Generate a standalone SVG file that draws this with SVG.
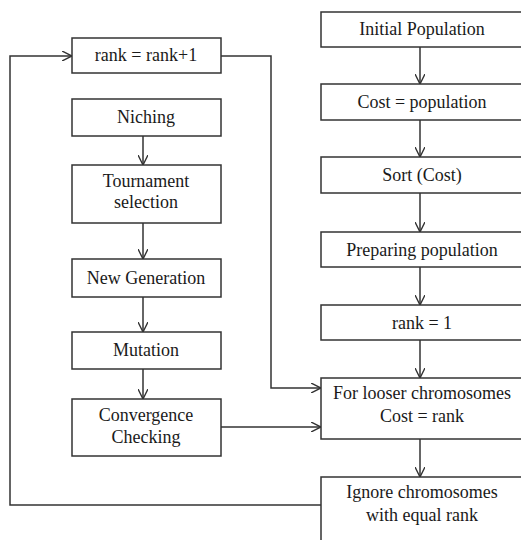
<svg xmlns="http://www.w3.org/2000/svg" width="521" height="540" viewBox="0 0 521 540">
<style>
.box{fill:#fff;stroke:#333;stroke-width:1.5}
.t{font-size:18px;fill:#1a1a1a;text-anchor:middle}
.c{fill:none;stroke:#333;stroke-width:1.5}
</style>
<defs>
<marker id="ah" viewBox="0 0 10 10" refX="10" refY="5" markerWidth="10" markerHeight="10" markerUnits="userSpaceOnUse" orient="auto">
<path d="M0,0 L10,5 L0,10" fill="none" stroke="#333" stroke-width="1.4"/>
</marker>
</defs>
<rect width="521" height="540" fill="#fff"/>
<g id="connectors">
<line class="c" x1="420" y1="47" x2="420" y2="84" marker-end="url(#ah)"/>
<line class="c" x1="420" y1="120" x2="420" y2="157" marker-end="url(#ah)"/>
<line class="c" x1="420" y1="193" x2="420" y2="232" marker-end="url(#ah)"/>
<line class="c" x1="420" y1="267" x2="420" y2="305" marker-end="url(#ah)"/>
<line class="c" x1="420" y1="340" x2="420" y2="378" marker-end="url(#ah)"/>
<line class="c" x1="420" y1="439" x2="420" y2="477" marker-end="url(#ah)"/>
<line class="c" x1="143" y1="136" x2="143" y2="165" marker-end="url(#ah)"/>
<line class="c" x1="143" y1="223" x2="143" y2="259" marker-end="url(#ah)"/>
<line class="c" x1="143" y1="297" x2="143" y2="332" marker-end="url(#ah)"/>
<line class="c" x1="143" y1="369" x2="143" y2="399" marker-end="url(#ah)"/>
<polyline class="c" points="321,505 10,505 10,56 72,56" marker-end="url(#ah)"/>
<polyline class="c" points="221,56 271,56 271,388 321,388" marker-end="url(#ah)"/>
<line class="c" x1="221" y1="427" x2="321" y2="427" marker-end="url(#ah)"/>
</g>
<g font-family="'Liberation Serif', 'Times New Roman', Times, serif">
<g id="initial"><rect class="box" x="321" y="12" width="210" height="35"/><text class="t" x="422" y="35">Initial Population</text></g>
<g id="cost"><rect class="box" x="321" y="84" width="210" height="36"/><text class="t" x="422" y="108">Cost = population</text></g>
<g id="sort"><rect class="box" x="321" y="157" width="210" height="36"/><text class="t" x="422" y="181">Sort (Cost)</text></g>
<g id="preparing"><rect class="box" x="321" y="232" width="210" height="35"/><text class="t" x="422" y="256">Preparing population</text></g>
<g id="rank1"><rect class="box" x="321" y="305" width="210" height="35"/><text class="t" x="422" y="329">rank = 1</text></g>
<g id="looser"><rect class="box" x="321" y="378" width="210" height="61"/><text class="t" x="422" y="399">For looser chromosomes</text><text class="t" x="422" y="422">Cost = rank</text></g>
<g id="ignore"><rect class="box" x="321" y="477" width="210" height="80"/><text class="t" x="422" y="498">Ignore chromosomes</text><text class="t" x="422" y="521">with equal rank</text></g>
<g id="rankinc"><rect class="box" x="72" y="38" width="149" height="35"/><text class="t" x="146" y="61">rank = rank+1</text></g>
<g id="niching"><rect class="box" x="72" y="99" width="149" height="37"/><text class="t" x="146" y="123">Niching</text></g>
<g id="tournament"><rect class="box" x="72" y="165" width="149" height="58"/><text class="t" x="146" y="187">Tournament</text><text class="t" x="146" y="208">selection</text></g>
<g id="newgen"><rect class="box" x="72" y="259" width="149" height="38"/><text class="t" x="146" y="284">New Generation</text></g>
<g id="mutation"><rect class="box" x="72" y="332" width="149" height="37"/><text class="t" x="146" y="356">Mutation</text></g>
<g id="convergence"><rect class="box" x="72" y="399" width="149" height="57"/><text class="t" x="146" y="421">Convergence</text><text class="t" x="146" y="443">Checking</text></g>
</g>
</svg>
